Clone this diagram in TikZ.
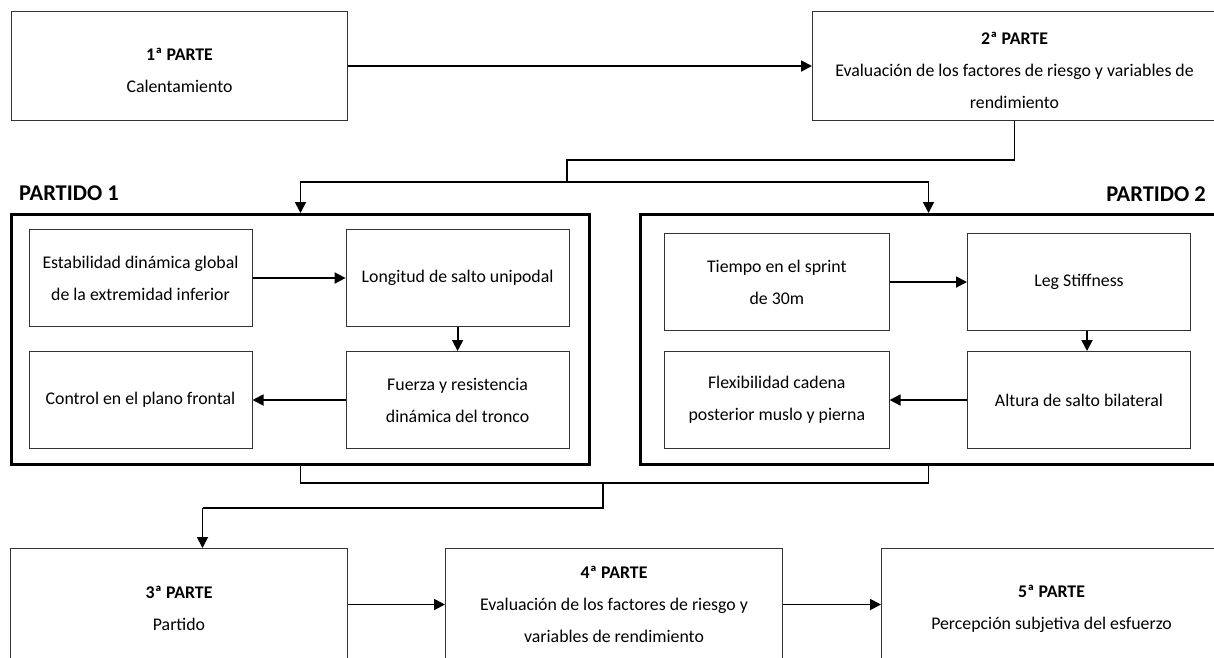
\documentclass[tikz,border=0pt]{standalone}
\usepackage{fontspec}
\setmainfont{Carlito}
\usetikzlibrary{arrows.meta,calc}
\newcommand\lowr{\rule{0pt}{21pt}}
\tikzset{
  box/.style={draw=black!80, line width=1pt, fill=white, inner sep=0pt, anchor=north west, align=center,
    font=\fontsize{17.8}{32}\selectfont},
  outer/.style={draw=black, line width=3pt, inner sep=0pt, anchor=north west},
  conn/.style={line width=1.8pt, black},
  arr/.style={conn, -{Triangle[length=11pt,width=11pt]}},
  grp/.style={font=\fontsize{22.5}{26}\selectfont\bfseries, inner sep=0pt}
}
\begin{document}
\begin{tikzpicture}[x=1pt,y=-1pt]
\useasboundingbox (0,0) rectangle (1214,657);
\clip (0,0) rectangle (1214,657);
% top boxes
\node[box, minimum width=336, minimum height=109] (b1) at (11,11) {\lowr\textbf{1ª PARTE}\\Calentamiento};
\node[box, minimum width=404, minimum height=109] (b2) at (812,11) {\lowr\textbf{2ª PARTE}\\Evaluación de los factores de riesgo y variables de\\rendimiento};
% group frames
\node[outer, minimum width=578, minimum height=250] (p1) at (10,213) {};
\node[outer, minimum width=576, minimum height=250] (p2) at (639,213) {};
\node[grp, anchor=west] (l1) at (19,193) {PARTIDO 1};
\node[grp, anchor=east] (l2) at (1206,194) {PARTIDO 2};
% inner boxes partido 1
\node[box, minimum width=223, minimum height=97] (A) at (28.5,229) {Estabilidad dinámica global\\de la extremidad inferior};
\node[box, minimum width=223, minimum height=97] (B) at (345.6,229) {Longitud de salto unipodal};
\node[box, minimum width=223, minimum height=97] (C) at (28.5,351) {Control en el plano frontal};
\node[box, minimum width=223, minimum height=97] (D) at (345.6,351) {Fuerza y resistencia\\dinámica del tronco};
% inner boxes partido 2
\node[box, minimum width=224.6, minimum height=97] (E) at (664,233) {Tiempo en el sprint\\de 30m};
\node[box, minimum width=223, minimum height=97] (F) at (967,233) {Leg Stiffness};
\node[box, minimum width=224.6, minimum height=97] (G) at (664,351) {Flexibilidad cadena\\posterior muslo y pierna};
\node[box, minimum width=223, minimum height=97] (H) at (967,351) {Altura de salto bilateral};
% bottom boxes
\node[box, minimum width=337, minimum height=112] (b3) at (10,548) {\lowr\textbf{3ª PARTE}\\Partido};
\node[box, minimum width=337, minimum height=112] (b4) at (445,548) {\textbf{4ª PARTE}\\Evaluación de los factores de riesgo y\\variables de rendimiento};
\node[box, minimum width=340, minimum height=112] (b5) at (881,548) {\lowr\textbf{5ª PARTE}\\Percepción subjetiva del esfuerzo};
% junction coordinates
\coordinate (j1) at (567,160);
\coordinate (j2) at (567,182);
\coordinate (j3) at (603,483);
\coordinate (j4) at (603,508);
\coordinate (j5) at (202.5,508);
% connectors
\draw[arr] (b1) -- (b2);
\draw[conn] (b2.south) |- (j1) -- (j2);
\draw[arr] (j2) -| (p1.north);
\draw[arr] (j2) -| (p2.north);
\draw[arr] (A) -- (B);
\draw[arr] (B) -- (D);
\draw[arr] (D) -- (C);
\draw[arr] (E) -- (F);
\draw[arr] ($(F.south)+(8,0)$) -- ($(H.north)+(8,0)$);
\draw[arr] (H) -- (G);
\draw[conn] (p1.south) |- (j3);
\draw[conn] (p2.south) |- (j3);
\draw[conn] (j3) -- (j4) -- (j5);
\draw[arr] (j5) -- (j5 |- b3.north);
\draw[arr] (b3) -- (b4);
\draw[arr] (b4) -- (b5);
\end{tikzpicture}
\end{document}
